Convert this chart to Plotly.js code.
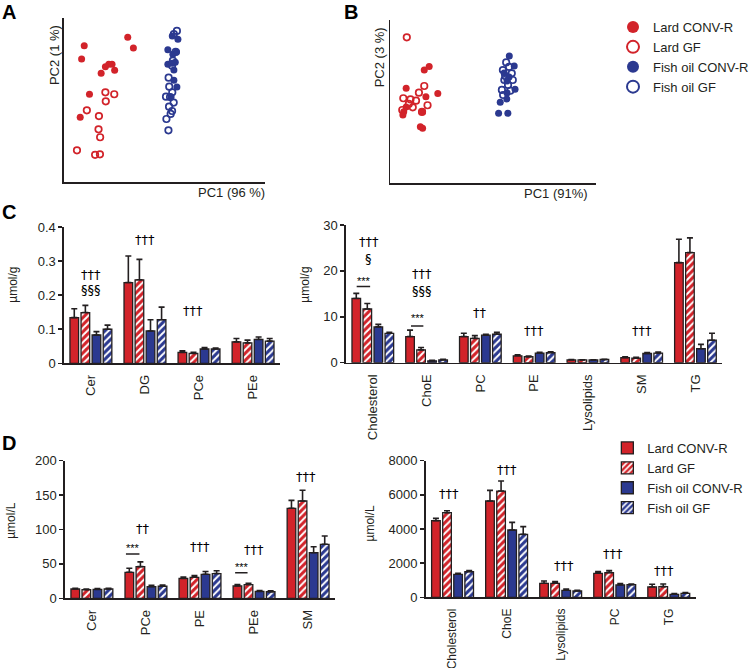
<!DOCTYPE html>
<html><head><meta charset="utf-8">
<script src="https://cdn.plot.ly/plotly-3.0.1.min.js"></script>
<style>html,body{margin:0;padding:0;background:#fff}#chart{width:754px;height:668px}</style>
</head><body><div id="chart"></div>
<script>
// ---------- series names ----------
const groupNames = ["Lard CONV-R", "Lard GF", "Fish oil CONV-R", "Fish oil GF"];

// ---------- Panel A: PCA scores (arbitrary units) ----------
const A_lardConv_pc1 = [31.7, 34.5, 10.1, 8.8, 22.3, 23.9, 20.6, 25.2, 18.5, 12.7, 8.1];
const A_lardConv_pc2 = [88.2, 81.7, 83.1, 75.0, 71.8, 71.8, 70.3, 68.1, 66.3, 53.5, 39.5];
const A_lardGF_pc1 = [20.6, 25.0, 20.8, 11.4, 17.4, 17.2, 18.0, 6.5, 15.5, 17.9];
const A_lardGF_pc2 = [54.7, 53.5, 49.2, 43.7, 40.2, 32.1, 27.3, 19.3, 16.6, 16.9];
const A_fishConv_pc1 = [53.8, 56.6, 51.6, 54.1, 55.9, 55.3, 51.6, 53.7, 54.6, 54.6, 56.1, 53.2];
const A_fishConv_pc2 = [89.0, 87.0, 80.7, 77.9, 79.3, 73.0, 71.8, 72.4, 68.3, 62.0, 57.9, 51.8];
const A_fishGF_pc1 = [56.1, 54.6, 55.5, 54.1, 53.7, 52.0, 52.3, 53.8, 50.7, 52.7, 54.5, 52.2, 53.7, 53.0, 50.9, 51.9];
const A_fishGF_pc2 = [92.1, 90.2, 79.3, 74.0, 70.9, 63.6, 58.1, 54.7, 52.0, 51.8, 48.4, 45.9, 43.3, 41.5, 38.4, 31.5];

// ---------- Panel B: PCA scores (arbitrary units) ----------
const B_lardConv_pc1 = [19.0, 16.6, 7.8, 23.2, 17.4, 7.8, 6.6, 6.2, 15.8, 14.7, 15.8];
const B_lardConv_pc2 = [71.5, 69.3, 58.1, 54.9, 52.9, 46.6, 43.7, 41.7, 43.7, 34.5, 33.6];
const B_lardGF_pc1 = [8.1, 16.6, 14.0, 6.4, 9.9, 12.6, 11.0, 18.2, 5.9, 15.5, 9.1];
const B_lardGF_pc2 = [89.4, 59.5, 55.4, 52.0, 51.3, 50.5, 46.4, 47.7, 44.8, 43.6, 48.5];
const B_fishConv_pc1 = [58.0, 60.4, 60.8, 56.8, 53.6, 52.8, 57.3, 56.9, 57.9, 55.5, 56.9];
const B_fishConv_pc2 = [77.9, 71.8, 57.5, 51.5, 49.5, 42.8, 42.8, 62.6, 65.0, 67.5, 55.2];
const B_fishGF_pc1 = [56.5, 54.9, 59.2, 57.9, 55.6, 59.7, 57.4, 54.4, 58.5, 55.0, 56.0];
const B_fishGF_pc2 = [74.0, 69.3, 67.3, 71.2, 63.2, 63.2, 60.1, 57.1, 56.6, 54.0, 65.6];

// ---------- Panel C (left): µmol/g ----------
const C1_categories = ["Cer", "DG", "PCe", "PEe"];
const C1_lardConv = [0.134, 0.237, 0.032, 0.063];
const C1_lardConv_err = [0.026, 0.078, 0.005, 0.010];
const C1_lardGF = [0.149, 0.245, 0.029, 0.060];
const C1_lardGF_err = [0.021, 0.060, 0.003, 0.008];
const C1_fishConv = [0.083, 0.095, 0.042, 0.070];
const C1_fishConv_err = [0.010, 0.033, 0.004, 0.007];
const C1_fishGF = [0.100, 0.128, 0.042, 0.065];
const C1_fishGF_err = [0.012, 0.037, 0.003, 0.008];

// ---------- Panel C (right): µmol/g ----------
const C2_categories = ["Cholesterol", "ChoE", "PC", "PE", "Lysolipids", "SM", "TG"];
const C2_lardConv = [14.0, 5.7, 5.7, 1.5, 0.6, 1.1, 21.8];
const C2_lardConv_err = [1.1, 1.4, 0.7, 0.2, 0.1, 0.2, 5.1];
const C2_lardGF = [11.7, 2.8, 5.3, 1.3, 0.6, 1.0, 24.0];
const C2_lardGF_err = [1.2, 0.5, 0.6, 0.15, 0.05, 0.15, 3.2];
const C2_fishConv = [7.8, 0.4, 6.0, 2.1, 0.6, 2.0, 3.05];
const C2_fishConv_err = [0.55, 0.1, 0.2, 0.15, 0.05, 0.2, 0.95];
const C2_fishGF = [6.4, 0.6, 6.2, 2.2, 0.7, 2.1, 4.9];
const C2_fishGF_err = [0.2, 0.15, 0.4, 0.2, 0.05, 0.2, 1.5];

// ---------- Panel D (left): µmol/L ----------
const D1_categories = ["Cer", "PCe", "PE", "PEe", "SM"];
const D1_lardConv = [13.5, 37.8, 29.0, 18.0, 130.8];
const D1_lardConv_err = [1.0, 5.8, 2.0, 1.9, 11.6];
const D1_lardGF = [12.5, 46.0, 30.5, 20.0, 141.4];
const D1_lardGF_err = [1.0, 7.0, 2.5, 1.8, 15.6];
const D1_fishConv = [13.0, 17.0, 34.9, 10.0, 66.3];
const D1_fishConv_err = [1.0, 2.0, 4.1, 1.4, 8.7];
const D1_fishGF = [13.5, 17.5, 36.0, 9.5, 78.5];
const D1_fishGF_err = [1.0, 1.9, 4.0, 1.3, 12.0];

// ---------- Panel D (right): µmol/L ----------
const D2_categories = ["Cholesterol", "ChoE", "Lysolipids", "PC", "TG"];
const D2_lardConv = [4490, 5640, 820, 1405, 605];
const D2_lardConv_err = [136, 624, 136, 97, 156];
const D2_lardGF = [4956, 6224, 820, 1444, 624];
const D2_lardGF_err = [117, 586, 97, 117, 156];
const D2_fishConv = [1346, 3941, 410, 722, 176];
const D2_fishConv_err = [59, 449, 78, 78, 39];
const D2_fishGF = [1502, 3688, 370, 741, 234];
const D2_fishGF_err = [59, 449, 40, 39, 39];

// ---------- styles ----------
const RED = "#d2232a", BLUE = "#2b3990", INK = "#231f20";
const FONT = "Liberation Sans, Arial, Helvetica, sans-serif";
const SIGFONT = "DejaVu Sans, Liberation Sans, sans-serif";
const W = 754, H = 668;
const px = v => v / W, py = v => 1 - v / H;

const traces = [];

function pcaTraces(xa, ya, sets, showLegend) {
  const styles = [
    {color: RED, symbol: "circle"}, {color: RED, symbol: "circle-open"},
    {color: BLUE, symbol: "circle"}, {color: BLUE, symbol: "circle-open"}];
  sets.forEach((s, i) => {
    const open = styles[i].symbol !== "circle";
    traces.push({
      type: "scatter", mode: "markers", name: groupNames[i],
      x: s[0], y: s[1], xaxis: xa, yaxis: ya,
      showlegend: showLegend, legend: "legend",
      marker: {color: styles[i].color, symbol: styles[i].symbol,
               size: open ? 6.5 : 7,
               line: {width: open ? 1.7 : 0, color: styles[i].color}},
      hoverinfo: "x+y+name"
    });
  });
}
pcaTraces("x", "y", [[A_lardConv_pc1, A_lardConv_pc2], [A_lardGF_pc1, A_lardGF_pc2],
                     [A_fishConv_pc1, A_fishConv_pc2], [A_fishGF_pc1, A_fishGF_pc2]], false);
pcaTraces("x2", "y2", [[B_lardConv_pc1, B_lardConv_pc2], [B_lardGF_pc1, B_lardGF_pc2],
                       [B_fishConv_pc1, B_fishConv_pc2], [B_fishGF_pc1, B_fishGF_pc2]], true);

function barTraces(xa, ya, cats, vals, errs, showLegend) {
  const colors = [RED, RED, BLUE, BLUE];
  const hatched = [false, true, false, true];
  vals.forEach((v, i) => {
    const m = {color: colors[i], line: {color: INK, width: 1.3}};
    if (hatched[i]) m.pattern = {shape: "/", fgcolor: "#ffffff", bgcolor: colors[i],
                                 size: 5, solidity: 0.4, fillmode: "replace"};
    traces.push({
      type: "bar", name: groupNames[i], x: cats, y: v, xaxis: xa, yaxis: ya,
      marker: m, showlegend: showLegend, legend: "legend2",
      error_y: {type: "data", symmetric: false, array: errs[i], arrayminus: v.map(() => 0),
                color: INK, thickness: 1.6, width: 3}
    });
  });
}
barTraces("x3", "y3", C1_categories, [C1_lardConv, C1_lardGF, C1_fishConv, C1_fishGF],
          [C1_lardConv_err, C1_lardGF_err, C1_fishConv_err, C1_fishGF_err], false);
barTraces("x4", "y4", C2_categories, [C2_lardConv, C2_lardGF, C2_fishConv, C2_fishGF],
          [C2_lardConv_err, C2_lardGF_err, C2_fishConv_err, C2_fishGF_err], false);
barTraces("x5", "y5", D1_categories, [D1_lardConv, D1_lardGF, D1_fishConv, D1_fishGF],
          [D1_lardConv_err, D1_lardGF_err, D1_fishConv_err, D1_fishGF_err], false);
barTraces("x6", "y6", D2_categories, [D2_lardConv, D2_lardGF, D2_fishConv, D2_fishGF],
          [D2_lardConv_err, D2_lardGF_err, D2_fishConv_err, D2_fishGF_err], true);

// ---------- axes ----------
function pcaAxis(dom, anchor) {
  return {domain: dom, anchor: anchor, range: [0, 100], showline: true, linecolor: INK, linewidth: 1.5,
          ticks: "", showticklabels: false, showgrid: false, zeroline: false, fixedrange: true};
}
function catAxis(dom, anchor, n, fs) {
  return {domain: dom, anchor: anchor, type: "category", range: [-0.5, n - 0.5], showline: true,
          linecolor: INK, linewidth: 1.5, ticks: "", tickangle: -90, ticklabelstandoff: 5,
          tickfont: {size: fs || 13, color: INK}, showgrid: false, zeroline: false, fixedrange: true};
}
function valAxis(dom, anchor, max, dtick) {
  return {domain: dom, anchor: anchor, range: [0, max], dtick: dtick, tick0: 0, showline: true,
          linecolor: INK, linewidth: 1.5, ticks: "outside", ticklen: 4, tickwidth: 1.5, tickcolor: INK,
          tickfont: {size: 13, color: INK}, showgrid: false, zeroline: false, fixedrange: true};
}

const layout = {
  width: W, height: H, margin: {l: 0, r: 0, t: 0, b: 0},
  paper_bgcolor: "#fff", plot_bgcolor: "rgba(0,0,0,0)",
  font: {family: FONT, color: INK, size: 13},
  barmode: "group", bargap: 0.18, bargroupgap: 0.22,
  xaxis: pcaAxis([px(65), px(270)], "y"),
  yaxis: pcaAxis([py(182), py(18)], "x"),
  xaxis2: pcaAxis([px(397), px(606)], "y2"),
  yaxis2: pcaAxis([py(183), py(20)], "x2"),
  xaxis3: catAxis([px(65), px(285)], "y3", C1_categories.length),
  yaxis3: valAxis([py(363.3), py(227)], "x3", 0.4, 0.1),
  xaxis4: catAxis([px(352), px(735)], "y4", C2_categories.length),
  yaxis4: valAxis([py(362.7), py(225)], "x4", 30, 10),
  xaxis5: catAxis([px(66), px(341)], "y5", D1_categories.length),
  yaxis5: valAxis([py(598.3), py(460.7)], "x5", 200, 50),
  xaxis6: catAxis([px(433), px(708)], "y6", D2_categories.length, 12),
  yaxis6: valAxis([py(597.3), py(460.7)], "x6", 8000, 2000),
  legend: {x: px(624), y: py(12), xanchor: "left", yanchor: "top", bgcolor: "rgba(0,0,0,0)",
           font: {size: 13, color: INK}, itemwidth: 30, tracegroupgap: 0, itemsizing: "constant"},
  legend2: {x: px(618), y: py(433), xanchor: "left", yanchor: "top", bgcolor: "rgba(0,0,0,0)",
            font: {size: 13, color: INK}, itemwidth: 30, tracegroupgap: 0},
  annotations: [], shapes: []
};

const ann = layout.annotations;
function paperText(text, x, y, opts) {
  ann.push(Object.assign({text: text, xref: "paper", yref: "paper", x: px(x), y: py(y),
    xanchor: "center", yanchor: "middle", showarrow: false, font: {size: 13, color: INK}}, opts || {}));
}
// panel letters
paperText("<b>A</b>", 9, 12, {font: {size: 20, color: "#000"}});
paperText("<b>B</b>", 357, 12, {font: {size: 20, color: "#000"}});
paperText("<b>C</b>", 9, 212, {font: {size: 20, color: "#000"}});
paperText("<b>D</b>", 9, 443, {font: {size: 20, color: "#000"}});
// PCA axis titles
paperText("PC1 (96 %)", 236, 192);
paperText("PC2 (1 %)", 55, 55, {textangle: -90});
paperText("PC1 (91%)", 566, 193);
paperText("PC2 (3 %)", 387, 57, {textangle: -90});
// bar y titles
paperText("µmol/g", 13, 285, {textangle: -90, font: {size: 12, color: INK}});
paperText("µmol/g", 310, 285, {textangle: -90, font: {size: 12, color: INK}});
paperText("µmol/L", 11, 520, {textangle: -90, font: {size: 12, color: INK}});
paperText("µmol/L", 376, 523, {textangle: -90, font: {size: 12, color: INK}});

// significance marks: [axis, category index, y value, text, xshift, size]
const sig = [
  ["3", 0, 0.26, "†††", 0, 14], ["3", 0, 0.216, "§§§", 0, 13], ["3", 1, 0.363, "†††", 0, 14], ["3", 2, 0.154, "†††", -6, 14],
  ["4", 0, 26.4, "†††", -4, 14], ["4", 0, 22.7, "§", -4, 13], ["4", 0, 17.9, "***", -9, 11],
  ["4", 1, 19.5, "†††", -5, 14], ["4", 1, 15.7, "§§§", -5, 13], ["4", 1, 9.7, "***", -9, 11],
  ["4", 2, 11.0, "††", 0, 14], ["4", 3, 7.1, "†††", 0, 14], ["4", 5, 7.1, "†††", 0, 14], ["4", 6, 30.2, "†††", 0, 14],
  ["5", 1, 101.7, "††", -3, 14], ["5", 1, 72.7, "***", -13, 11], ["5", 2, 75, "†††", 0, 14],
  ["5", 3, 70.2, "†††", 0, 14], ["5", 3, 46, "***", -12, 11], ["5", 4, 176.7, "†††", -2, 14],
  ["6", 0, 6090, "†††", -4, 14], ["6", 1, 7496, "†††", 0, 14], ["6", 2, 1833, "†††", 3, 14],
  ["6", 3, 2577, "†††", -2, 14], ["6", 4, 1558, "†††", -5, 14]
];
sig.forEach(s => ann.push({xref: "x" + s[0], yref: "y" + s[0], x: s[1], y: s[2], text: s[3], xshift: s[4],
  showarrow: false, xanchor: "center", yanchor: "middle",
  font: {size: s[3] === "***" ? s[5] : 13, color: "#000000", family: s[3] === "***" ? FONT : SIGFONT}}));

// lines under *** : [axis, category index, x0 offset, x1 offset, y]
const sigLines = [["4", 0, -0.30, -0.05, 16.6], ["4", 1, -0.29, -0.06, 8.0],
                  ["5", 1, -0.37, -0.12, 64.4], ["5", 3, -0.35, -0.12, 37.2]];
sigLines.forEach(l => layout.shapes.push({type: "line", xref: "x" + l[0], yref: "y" + l[0],
  x0: l[1] + l[2], x1: l[1] + l[3], y0: l[4], y1: l[4], line: {color: INK, width: 1.6}}));

Plotly.newPlot("chart", traces, layout, {displayModeBar: false, staticPlot: true});
</script>
</body></html>
